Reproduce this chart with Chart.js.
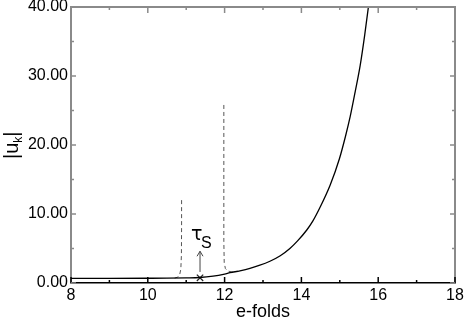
<!DOCTYPE html>
<html>
<head>
<meta charset="utf-8">
<script src="https://cdn.jsdelivr.net/npm/chart.js@4.4.1/dist/chart.umd.min.js"></script>
<style>
  html, body { margin: 0; padding: 0; background: #fff; }
  #wrap { width: 465px; height: 319px; }
</style>
</head>
<body>
<div id="wrap"><canvas id="grafico"></canvas></div>
<script>
// curva principal |u_k| (linea continua)
const solidX = [8.0, 9.0, 10.0, 10.5, 11.0, 11.35, 11.7, 12.0, 12.14, 12.4, 12.66, 12.9, 13.18, 13.45, 13.7, 13.9, 14.14, 14.3, 14.48, 14.75, 14.99, 15.15, 15.27, 15.4, 15.53, 15.65, 15.74, 15.8];
const solidY = [0.68, 0.68, 0.69, 0.70, 0.74, 0.80, 1.0, 1.3, 1.49, 1.77, 2.12, 2.54, 3.15, 3.95, 5.0, 6.1, 7.68, 9.0, 10.9, 14.2, 18.0, 21.3, 24.1, 27.7, 31.5, 36.0, 39.8, 42.6];
// picos discontinuos
const dash1X = [10.70, 10.78, 10.83, 10.86, 10.875, 10.88, 10.88];
const dash1Y = [0.72, 0.85, 1.2, 2.0, 4.0, 8.0, 12.4];
const dash2X = [11.98, 11.98, 11.99, 12.02, 12.08, 12.18, 12.35];
const dash2Y = [25.8, 6.0, 3.0, 2.1, 1.75, 1.6, 1.72];
// marca tau_S
const markX = [11.36];
const markY = [0.75];
// ejes
const xTicks = [8, 10, 12, 14, 16, 18];
const yTicks = [0, 10, 20, 30, 40];

const pares = (xs, ys) => xs.map((x, i) => ({ x: x, y: ys[i] }));

Chart.defaults.font.family = "'Liberation Sans', Arial, sans-serif";
Chart.defaults.color = '#000';

const GRIS = '#8a8a8a';

const extras = {
    id: 'extras',
    afterDraw(chart) {
        const ctx = chart.ctx;
        const a = chart.chartArea;
        const sx = chart.scales.x;
        const sy = chart.scales.y;
        ctx.save();
        // bordes superior y derecho
        ctx.strokeStyle = GRIS;
        ctx.lineWidth = 2;
        ctx.beginPath();
        ctx.moveTo(a.left, a.top);
        ctx.lineTo(a.right, a.top);
        ctx.lineTo(a.right, a.bottom);
        ctx.stroke();
        // ticks hacia dentro
        ctx.lineWidth = 1.5;
        for (let v = 8; v <= 18; v++) {
            const px = sx.getPixelForValue(v);
            const len = v % 2 === 0 ? 6 : 3;
            ctx.strokeStyle = '#000';
            ctx.beginPath();
            ctx.moveTo(px, a.bottom);
            ctx.lineTo(px, a.bottom - len);
            ctx.stroke();
            ctx.strokeStyle = GRIS;
            ctx.beginPath();
            ctx.moveTo(px, a.top);
            ctx.lineTo(px, a.top + len);
            ctx.stroke();
        }
        ctx.strokeStyle = GRIS;
        for (let v = 0; v <= 40; v += 5) {
            const py = sy.getPixelForValue(v);
            const len = v % 10 === 0 ? 5 : 3;
            ctx.beginPath();
            ctx.moveTo(a.left, py);
            ctx.lineTo(a.left + len, py);
            ctx.moveTo(a.right, py);
            ctx.lineTo(a.right - len, py);
            ctx.stroke();
        }
        // flecha y etiqueta tau_S
        const mx = sx.getPixelForValue(markX[0]);
        const y0 = sy.getPixelForValue(1.6);
        const y1 = sy.getPixelForValue(4.6);
        ctx.strokeStyle = '#444';
        ctx.lineWidth = 1;
        ctx.beginPath();
        ctx.moveTo(mx, y0);
        ctx.lineTo(mx, y1);
        ctx.moveTo(mx - 3, y1 + 5);
        ctx.lineTo(mx, y1);
        ctx.lineTo(mx + 3, y1 + 5);
        ctx.stroke();
        ctx.fillStyle = '#000';
        ctx.textBaseline = 'alphabetic';
        ctx.textAlign = 'left';
        ctx.font = "19px 'DejaVu Sans', sans-serif";
        ctx.fillText('τ', mx - 9, y1 - 11);
        ctx.font = "16px 'Liberation Sans', Arial, sans-serif";
        ctx.fillText('S', mx + 1, y1 - 3);
        // titulo eje y: |u_k|
        ctx.translate(18, 145);
        ctx.rotate(-Math.PI / 2);
        ctx.font = "20px 'Liberation Sans', Arial, sans-serif";
        ctx.textAlign = 'left';
        let x = -14;
        ctx.fillText('|u', x, 0);
        x += ctx.measureText('|u').width;
        ctx.font = "12px 'Liberation Sans', Arial, sans-serif";
        ctx.fillText('k', x, 4);
        x += ctx.measureText('k').width;
        ctx.font = "20px 'Liberation Sans', Arial, sans-serif";
        ctx.fillText('|', x, 0);
        ctx.restore();
    }
};

new Chart(document.getElementById('grafico'), {
    type: 'scatter',
    data: {
        datasets: [{
            label: 'sol',
            data: pares(solidX, solidY),
            showLine: true,
            borderColor: '#000',
            borderWidth: 1.3,
            pointRadius: 0,
            cubicInterpolationMode: 'monotone'
        }, {
            label: 'd1',
            data: pares(dash1X, dash1Y),
            showLine: true,
            borderColor: '#555',
            borderWidth: 1,
            borderDash: [4, 3],
            pointRadius: 0,
            tension: 0
        }, {
            label: 'd2',
            data: pares(dash2X, dash2Y),
            showLine: true,
            borderColor: '#555',
            borderWidth: 1,
            borderDash: [4, 3],
            pointRadius: 0,
            tension: 0
        }, {
            label: 'tau',
            data: pares(markX, markY),
            showLine: false,
            pointStyle: 'crossRot',
            pointRadius: 4.5,
            borderColor: '#222',
            borderWidth: 1.2
        }]
    },
    options: {
        responsive: true,
        maintainAspectRatio: false,
        animation: false,
        layout: { padding: { top: 7, right: 10, left: 0, bottom: 0 } },
        plugins: {
            legend: { display: false },
            tooltip: { enabled: false }
        },
        scales: {
            x: {
                type: 'linear',
                min: 8,
                max: 18,
                afterBuildTicks: s => { s.ticks = xTicks.map(v => ({ value: v })); },
                afterFit: s => { s.height = 36; s.paddingLeft = 0; s.paddingRight = 0; },
                grid: { display: true, drawOnChartArea: false, drawTicks: false },
                border: { color: '#000', width: 1.5 },
                ticks: { font: { size: 16 }, padding: 3, maxRotation: 0 },
                title: {
                    display: true,
                    text: 'e-folds',
                    font: { size: 18, lineHeight: 1 },
                    padding: { top: 0, bottom: -2 }
                }
            },
            y: {
                type: 'linear',
                min: 0,
                max: 40,
                afterBuildTicks: s => { s.ticks = yTicks.map(v => ({ value: v })); },
                afterFit: s => { s.width = 71; s.paddingTop = 0; s.paddingBottom = 0; },
                grid: { display: true, drawOnChartArea: false, drawTicks: false },
                border: { color: GRIS, width: 2 },
                ticks: {
                    font: { size: 16 },
                    padding: 3,
                    callback: v => v.toFixed(2)
                }
            }
        }
    },
    plugins: [extras]
});
</script>
</body>
</html>
